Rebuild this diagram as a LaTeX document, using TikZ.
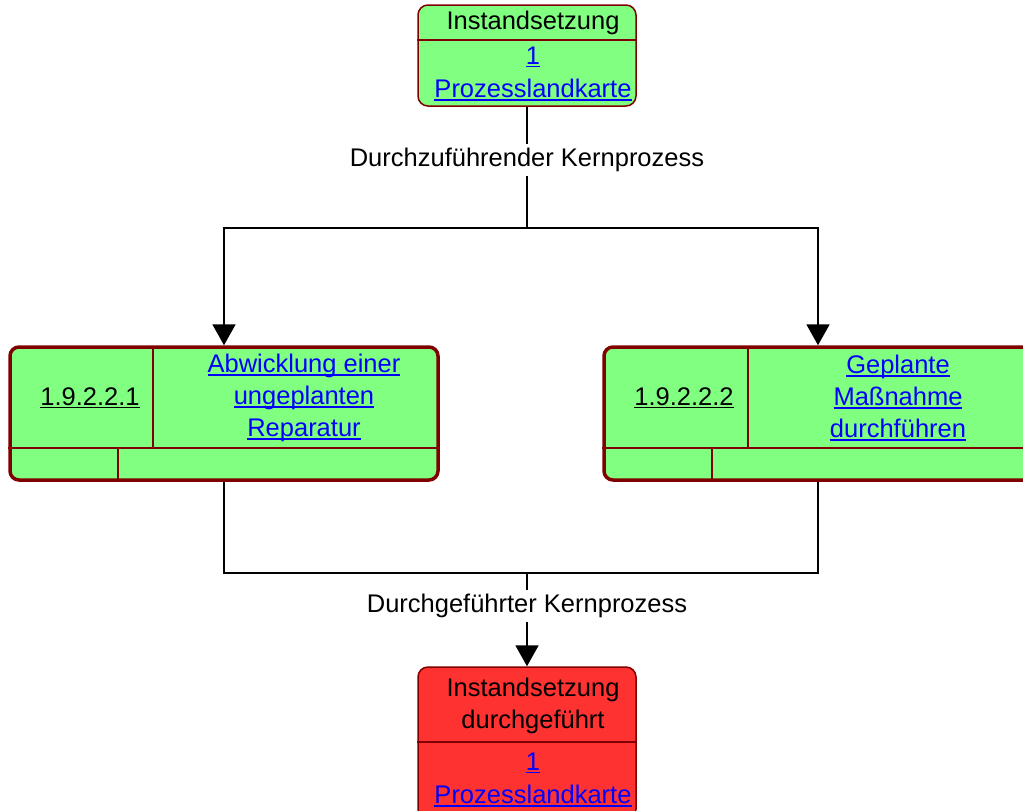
\documentclass[tikz,border=0pt]{standalone}
\usepackage{fontspec}
\setmainfont{Liberation Sans}
\usetikzlibrary{arrows.meta}
\definecolor{boxgreen}{HTML}{80FF80}
\definecolor{boxred}{HTML}{FF3232}
\definecolor{boxborder}{HTML}{800000}
\definecolor{linkblue}{HTML}{0000FF}
\newcommand\ulk[1]{\setbox0\hbox{#1}\rlap{\rule[-3pt]{\wd0}{1.5pt}}\box0}
\tikzset{
  evbox/.style={draw=boxborder, line width=1.5pt, rounded corners=10pt, inner sep=0pt},
  procbox/.style={draw=boxborder, fill=boxgreen, line width=3.5pt, rounded corners=9pt, minimum width=428pt, minimum height=133pt, inner sep=0pt},
  divider/.style={draw=boxborder, line width=1.5pt},
  txt/.style={font=\fontsize{25.5}{32}\selectfont, inner sep=0pt, align=center},
  link/.style={txt, text=linkblue},
  conn/.style={draw=black, line width=2pt},
  arr/.style={conn, -{Triangle[width=23pt,length=21pt]}},
  lbl/.style={txt, fill=white, inner sep=4pt}
}
\begin{document}
\begin{tikzpicture}[x=1pt,y=-1pt]
\clip (0,0) rectangle (1023,811);
\fill[white] (0,0) rectangle (1023,811);

% top event
\node[evbox, fill=boxgreen, minimum width=218pt, minimum height=101pt] (top) at (527,55.5) {};
\draw[divider] (top.west |- 0,40) -- (top.east |- 0,40);
\node[txt] (topt) at (533,23) {Instandsetzung};
\node[link] (topl1) at (533,57) {\ulk{1}};
\node[link] (topl2) at (533,90) {\ulk{Prozesslandkarte}};

% process boxes
\node[procbox] (p1) at (224,413.5) {};
\draw[divider] (153,347) -- (153,448);
\draw[divider] (p1.west |- 0,448) -- (p1.east |- 0,448);
\draw[divider] (118,448) -- (118,480);
\node[txt] (p1id) at (90,398) {\ulk{1.9.2.2.1}};
\node[link] (p1n) at (304,398) {\ulk{Abwicklung einer}\\\ulk{ungeplanten}\\\ulk{Reparatur}};

\node[procbox] (p2) at (818,413.5) {};
\draw[divider] (748,347) -- (748,448);
\draw[divider] (p2.west |- 0,448) -- (p2.east |- 0,448);
\draw[divider] (712,448) -- (712,480);
\node[txt] (p2id) at (684,398) {\ulk{1.9.2.2.2}};
\node[link] (p2n) at (898,398) {\ulk{Geplante}\\\ulk{Maßnahme}\\\ulk{durchführen}};

% bottom event
\node[evbox, fill=boxred, minimum width=218pt, minimum height=152pt] (bot) at (527,743) {};
\draw[divider] (bot.west |- 0,742) -- (bot.east |- 0,742);
\node[txt] (bott) at (533,706) {Instandsetzung\\durchgeführt};
\node[link] (botl1) at (533,763) {\ulk{1}};
\node[link] (botl2) at (533,796) {\ulk{Prozesslandkarte}};

% connectors
\coordinate (j1) at (527,228);
\coordinate (j2) at (527,573);
\draw[conn] (top.south) -- (j1);
\draw[arr] (j1) -| (p1.north);
\draw[arr] (j1) -| (p2.north);
\draw[conn] (p1.south) |- (j2);
\draw[conn] (p2.south) |- (j2);
\draw[arr] (j2) -- (bot.north);

\node[lbl] (l1) at (527,160) {Durchzuführender Kernprozess};
\node[lbl] (l2) at (527,606) {Durchgeführter Kernprozess};
\end{tikzpicture}
\end{document}
